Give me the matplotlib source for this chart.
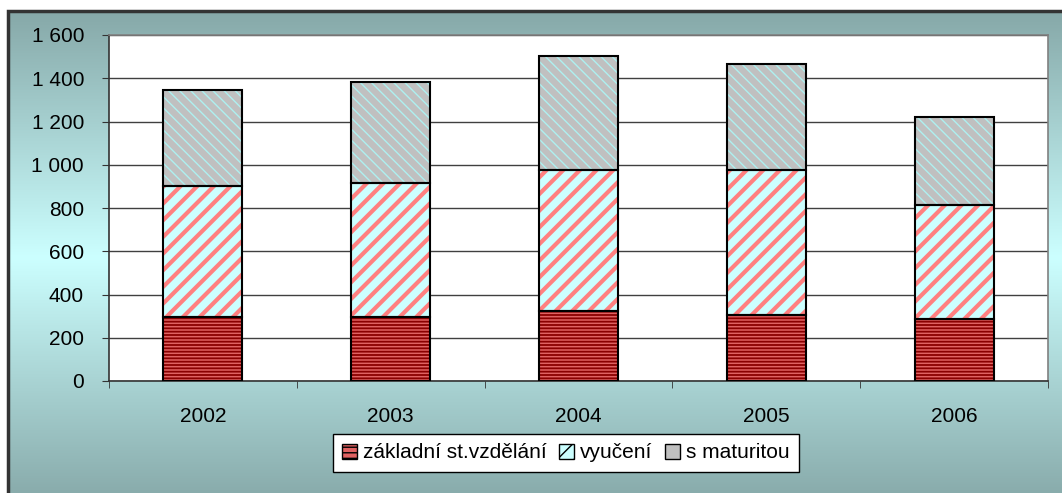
import numpy as np
import matplotlib
matplotlib.use('Agg')
import matplotlib.pyplot as plt
from matplotlib.ticker import FuncFormatter, MultipleLocator
from matplotlib.patches import Rectangle

plt.rcParams['font.family'] = ['Liberation Sans', 'DejaVu Sans']

# Data
years = ['2002', '2003', '2004', '2005', '2006']
zakladni = [294, 294, 323, 306, 286]
vyuceni = [606, 623, 651, 671, 529]
maturita = [447, 467, 531, 491, 408]
labels = ['základní st.vzdělání', 'vyučení', 's maturitou']

W, H = 1062, 493
fig = plt.figure(figsize=(W / 100, H / 100), dpi=100)

# Gradient background inside the frame (frame runs past the right and bottom edges)
bg = fig.add_axes([8 / W, -12 / H, 1, (H - 11 + 12) / H])
bg.set_axis_off()
t = np.linspace(0, 1, 256)
w = 1 - np.abs(t - 0.5) * 2
dark = np.array([0x86, 0xa8, 0xa8]) / 255
light = np.array([0xcc, 0xff, 0xff]) / 255
grad = dark[None, :] * (1 - w[:, None]) + light[None, :] * w[:, None]
bg.imshow(grad[:, None, :], aspect='auto', extent=[0, 1, 0, 1])
bg.add_patch(Rectangle((0, 0), 1, 1, transform=bg.transAxes, fill=False,
                       edgecolor='#333333', linewidth=2.5, clip_on=False))

ax = fig.add_axes([109 / W, 1 - 381 / H, (1048 - 109) / W, (381 - 35) / H])
ax.set_facecolor('white')

x = np.arange(len(years))
width = 0.42
bottom2 = np.array(zakladni)
bottom3 = bottom2 + np.array(vyuceni)

# Hatched fills first (hatch colour comes from edgecolor), black outlines on top
plt.rcParams['hatch.linewidth'] = 1.3
ax.bar(x, zakladni, width, color='#e06262', edgecolor='#8a0000', hatch='-----', linewidth=0, zorder=3)
plt.rcParams['hatch.linewidth'] = 3.0
ax.bar(x, vyuceni, width, bottom=bottom2, color='#ccffff', edgecolor='#ff8080', hatch='//', linewidth=0, zorder=3)
plt.rcParams['hatch.linewidth'] = 1.0
ax.bar(x, maturita, width, bottom=bottom3, color='#c0c0c0', edgecolor='#aef0f0', hatch='\\\\\\', linewidth=0, zorder=3)

ax.bar(x, zakladni, width, fill=False, edgecolor='black', linewidth=1.5, zorder=4)
ax.bar(x, vyuceni, width, bottom=bottom2, fill=False, edgecolor='black', linewidth=1.5, zorder=4)
ax.bar(x, maturita, width, bottom=bottom3, fill=False, edgecolor='black', linewidth=1.5, zorder=4)

# Axes, ticks and grid
ax.set_xlim(-0.5, len(years) - 0.5)
ax.set_ylim(0, 1600)
ax.yaxis.set_major_locator(MultipleLocator(200))
ax.yaxis.set_major_formatter(FuncFormatter(lambda v, p: f'{int(v):,}'.replace(',', ' ')))
ax.set_xticks(x)
ax.set_xticklabels(years)
ax.set_xticks(np.arange(len(years) + 1) - 0.5, minor=True)
ax.tick_params(axis='x', which='major', length=0, pad=19, labelsize=15)
ax.tick_params(axis='x', which='minor', length=5, color='#333333', direction='out')
ax.tick_params(axis='y', length=5, color='#333333', pad=13, labelsize=15)
ax.grid(axis='y', color='#404040', linewidth=1.0, zorder=0)
ax.set_axisbelow(True)

for s in ['left', 'bottom']:
    ax.spines[s].set_color('#333333')
    ax.spines[s].set_linewidth(1.2)
for s in ['top', 'right']:
    ax.spines[s].set_color('#808080')
    ax.spines[s].set_linewidth(1.2)

# Legend with hatched swatches
plt.rcParams['hatch.linewidth'] = 1.0
h1 = Rectangle((0, 0), 1, 1, facecolor='#e06262', edgecolor='black', hatch='---')
h2 = Rectangle((0, 0), 1, 1, facecolor='#ccffff', edgecolor='black', hatch='//')
h3 = Rectangle((0, 0), 1, 1, facecolor='#c0c0c0', edgecolor='black')
leg = fig.legend([h1, h2, h3], labels, loc='center', bbox_to_anchor=(566 / W, 1 - 453 / H),
                 ncol=3, fontsize=15, frameon=True, fancybox=False, framealpha=1,
                 edgecolor='black', handlelength=0.7, handleheight=0.7,
                 handletextpad=0.3, columnspacing=0.6, borderpad=0.45)
leg.get_frame().set_linewidth(1.0)

fig.savefig('out.png', dpi=100)
